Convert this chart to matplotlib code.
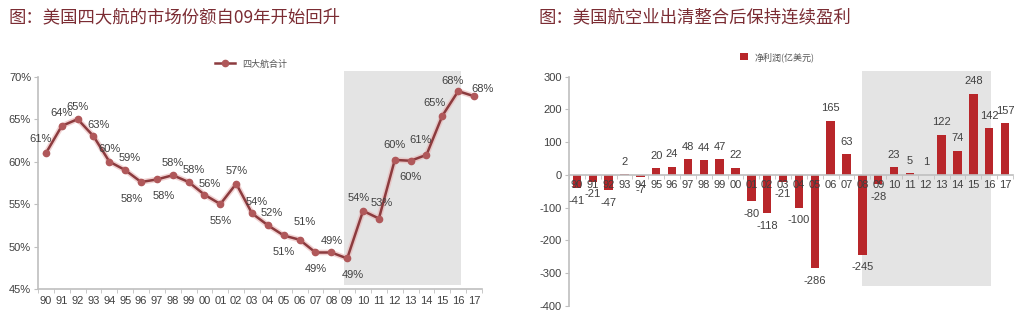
import matplotlib
matplotlib.use("Agg")
import matplotlib.pyplot as plt
from matplotlib.ticker import FixedLocator, FuncFormatter

plt.rcParams['font.family'] = ['Liberation Sans', 'Noto Sans CJK SC']
plt.rcParams['axes.unicode_minus'] = False

# Donnees ---------------------------------------------------------------------
years = ["90", "91", "92", "93", "94", "95", "96", "97", "98", "99", "00",
         "01", "02", "03", "04", "05", "06", "07", "08", "09", "10", "11",
         "12", "13", "14", "15", "16", "17"]
share = [61.0, 64.2, 65.0, 63.0, 60.0, 59.0, 57.6, 57.9, 58.4, 57.6, 56.1,
         55.0, 57.4, 53.9, 52.5, 51.3, 50.8, 49.3, 49.3, 48.6, 54.2, 53.3,
         60.2, 60.1, 60.8, 65.4, 68.3, 67.7]
share_labels = ["61%", "64%", "65%", "63%", "60%", "59%", "58%", "58%", "58%",
                "58%", "56%", "55%", "57%", "54%", "52%", "51%", "51%", "49%",
                "49%", "49%", "54%", "53%", "60%", "60%", "61%", "65%", "68%",
                "68%"]
profit = [-41, -21, -47, 2, -7, 20, 24, 48, 44, 47, 22, -80, -118, -21, -100,
          -286, 165, 63, -245, -28, 23, 5, 1, 122, 74, 248, 142, 157]

title_left = "图：美国四大航的市场份额自09年开始回升"
title_right = "图：美国航空业出清整合后保持连续盈利"
legend_left = "四大航合计"
legend_right = "净利润(亿美元)"

# placement des etiquettes (decalage en points)
share_offsets = [(-4, 10), (0, 9), (0, 9), (4, 8), (0, 9), (3, 9), (-7, -12),
                 (5, -12), (0, 9), (4, 9), (4, 8), (0, -12), (0, 9), (3, 8),
                 (3, 9), (0, -12), (4, 13), (0, -12), (0, 8), (4, -12),
                 (-3, 9), (2, 11), (0, 11), (0, -12), (-4, 11), (-6, 9),
                 (-4, 7), (6, 5)]

TXT = "#404040"
AXC = "#bfbfbf"
TITLE_C = "#7b2c33"

fig = plt.figure(figsize=(10.24, 3.18), dpi=100)
fig.text(0.008, 0.946, title_left, fontsize=12.5, color=TITLE_C,
         family=['Noto Sans CJK SC'], va='center')
fig.text(0.526, 0.946, title_right, fontsize=12.5, color=TITLE_C,
         family=['Noto Sans CJK SC'], va='center')

x = list(range(len(years)))

# 1) Part de marche ------------------------------------------------------------
ax = fig.add_axes([0.0371, 0.0912, 0.4336, 0.6676])
ax.axvspan(18.8, 26.2, ymin=0.02, ymax=1.027, color="#e4e4e4", lw=0,
           zorder=0, clip_on=False)
ax.plot(x, share, color="#e8b4b4", lw=4, alpha=0.6, zorder=2)
ax.plot(x, share, color="#8c3b3e", lw=1.8, marker='o', ms=4.5,
        mfc="#b0585a", mec="#b0585a", zorder=3, label=legend_left)
for xi, v, lab, off in zip(x, share, share_labels, share_offsets):
    ax.annotate(lab, (xi, v), xytext=off, textcoords='offset points',
                ha='center', va='center', fontsize=8, color=TXT, zorder=4)
ax.set_xlim(-0.5, 27.5)
ax.set_ylim(45, 70)
ax.set_yticks([45, 50, 55, 60, 65, 70])
ax.yaxis.set_major_formatter(FuncFormatter(lambda v, p: "%d%%" % v))
ax.set_xticks(x)
ax.set_xticklabels(years)
ax.xaxis.set_minor_locator(FixedLocator([i - 0.5 for i in range(29)]))
ax.tick_params(axis='x', which='major', length=0, pad=5, labelsize=8,
               labelcolor=TXT)
ax.tick_params(axis='x', which='minor', length=3, color=AXC)
ax.tick_params(axis='y', length=3, color=AXC, pad=2, labelsize=8,
               labelcolor=TXT)
for s in ['top', 'right']:
    ax.spines[s].set_visible(False)
for s in ['left', 'bottom']:
    ax.spines[s].set_color(AXC)
    ax.spines[s].set_linewidth(1.2)
leg = ax.legend(loc='center', bbox_to_anchor=(0.48, 1.06), frameon=False,
                fontsize=6.5, handlelength=2.2, borderaxespad=0)
for t in leg.get_texts():
    t.set_family(['Noto Sans CJK SC'])
    t.set_color("#555555")

# 2) Resultat net --------------------------------------------------------------
ax2 = fig.add_axes([0.5557, 0.0387, 0.4336, 0.7201])
ax2.axvspan(18.0, 26.1, ymin=0.087, ymax=1.024, color="#e4e4e4", lw=0,
            zorder=0, clip_on=False)
ax2.bar(x, profit, width=0.53, color="#b8262a", zorder=1,
        label=legend_right)
for xi, v in zip(x, profit):
    off = 9 if v >= 0 else -9
    ax2.annotate(str(v), (xi, v), xytext=(0, off), textcoords='offset points',
                 ha='center', va='center', fontsize=8, color=TXT, zorder=4)
ax2.set_xlim(-0.5, 27.5)
ax2.set_ylim(-400, 300)
ax2.set_yticks(range(-400, 301, 100))
ax2.yaxis.set_major_formatter(FuncFormatter(lambda v, p: "%d" % v))
ax2.set_xticks(x)
ax2.set_xticklabels(years)
ax2.xaxis.set_minor_locator(FixedLocator([i - 0.5 for i in range(29)]))
ax2.xaxis.set_zorder(5)
ax2.spines['bottom'].set_position(('data', 0))
ax2.tick_params(axis='x', which='major', length=0, pad=4, labelsize=8,
                labelcolor=TXT)
ax2.tick_params(axis='x', which='minor', length=3, color=AXC)
ax2.tick_params(axis='y', length=3, color=AXC, pad=2, labelsize=8,
                labelcolor=TXT)
for s in ['top', 'right']:
    ax2.spines[s].set_visible(False)
for s in ['left', 'bottom']:
    ax2.spines[s].set_color(AXC)
    ax2.spines[s].set_linewidth(1.2)
leg2 = ax2.legend(loc='center', bbox_to_anchor=(0.47, 1.086), frameon=False,
                  fontsize=6.5, handlelength=0.8, handleheight=0.8,
                  borderaxespad=0)
for t in leg2.get_texts():
    t.set_family(['Noto Sans CJK SC'])
    t.set_color("#555555")

fig.savefig("out.png", dpi=100)
